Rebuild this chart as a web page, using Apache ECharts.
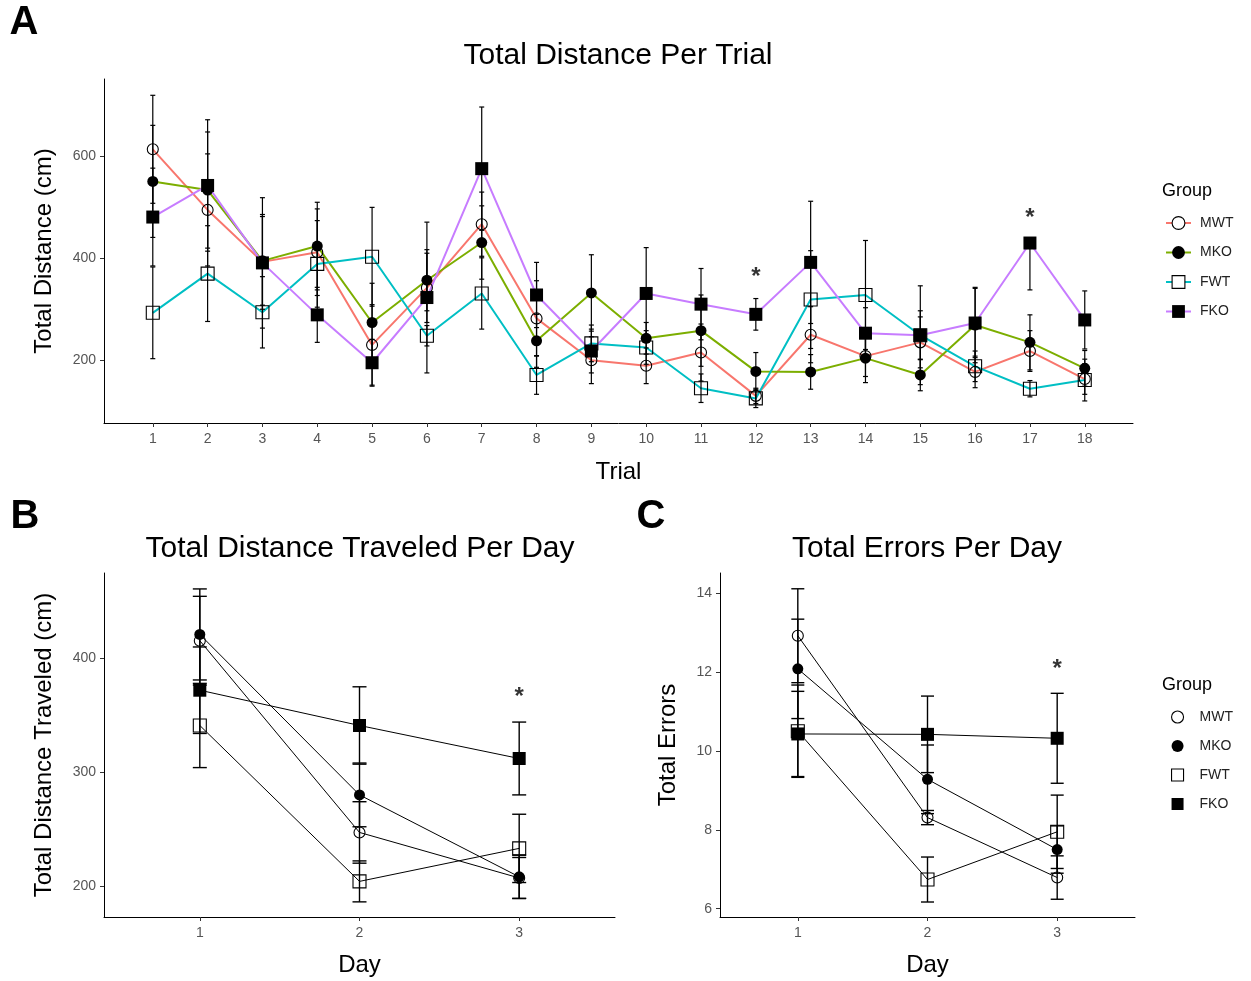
<!DOCTYPE html>
<html>
<head>
<meta charset="utf-8">
<script src="https://cdn.jsdelivr.net/npm/echarts@6/dist/echarts.min.js"></script>
<style>
  html, body { margin: 0; padding: 0; background: #fff; }
  #chart { width: 1251px; height: 981px; }
</style>
</head>
<body>
<div id="chart"></div>
<script>
// panel A - total distance per trial
const trials = [1, 2, 3, 4, 5, 6, 7, 8, 9, 10, 11, 12, 13, 14, 15, 16, 17, 18]
const trialTicks = [1, 2, 3, 4, 5, 6, 7, 8, 9, 10, 11, 12, 13, 14, 15, 16, 17, 18]
const distTicks = [200, 400, 600]

const mwtTrial = [614, 495, 393, 412, 230, 342, 467, 282, 200, 189, 215, 130, 250, 208, 235, 177, 218, 163]
const mkoTrial = [551, 534, 395, 424, 274, 357, 431, 238, 332, 243, 258, 178, 177, 204, 171, 269, 235, 184]
const fwtTrial = [293, 370, 294, 389, 403, 248, 331, 171, 233, 225, 145, 125, 319, 328, 249, 188, 144, 161]
const fkoTrial = [481, 543, 391, 289, 195, 323, 576, 328, 218, 331, 310, 290, 392, 253, 249, 273, 430, 279]

const mwtTrialSe = [106, 110, 93, 85, 79, 68, 63, 74, 46, 35, 56, 15, 55, 40, 50, 31, 40, 30]
const mkoTrialSe = [110, 114, 87, 86, 77, 60, 72, 52, 75, 31, 70, 37, 34, 48, 31, 74, 54, 35]
const fwtTrialSe = [90, 94, 70, 85, 97, 20, 70, 38, 36, 33, 28, 18, 96, 107, 48, 30, 16, 41]
const fkoTrialSe = [96, 129, 128, 54, 46, 148, 121, 64, 43, 90, 70, 31, 120, 50, 97, 68, 92, 57]
// upper whisker of FKO is not drawn at trial 17
const fkoTrialSeUp = [96, 129, 128, 54, 46, 148, 121, 64, 43, 90, 70, 31, 120, 50, 97, 68, 0, 57]

// panel B - distance per day
const days = [1, 2, 3]
const dayTicks = [1, 2, 3]
const dayDistTicks = [200, 300, 400]

const mwtDay = [415.5, 247, 207]
const mkoDay = [421, 280, 208]
const fwtDay = [341, 204, 233]
const fkoDay = [372, 341, 312]

const mwtDaySe = [39, 27, 18]
const mkoDaySe = [40, 28, 19]
const fwtDaySe = [37, 18, 30]
const fkoDaySe = [38, 34, 32]

// panel C - errors per day
const errTicks = [6, 8, 10, 12, 14]

const mwtErr = [12.92, 8.31, 6.79]
const mkoErr = [12.08, 9.28, 7.5]
const fwtErr = [10.5, 6.74, 7.95]
const fkoErr = [10.43, 10.42, 10.32]

const mwtErrSe = [1.19, 0.18, 0.55]
const mkoErrSe = [1.26, 0.87, 0.6]
const fwtErrSe = [1.17, 0.57, 0.93]
const fkoErrSe = [1.08, 0.97, 1.14]

// significance marks
const starsA = [[12, 362], [17, 478]]
const starsB = [[3, 366]]
const starsC = [[3, 12.07]]

const FONT = '"Liberation Sans", Arial, sans-serif'
const groupColors = { MWT: '#F8766D', MKO: '#7CAE00', FWT: '#00BFC4', FKO: '#C77CFF' }
const groupSymbols = {
  MWT: { symbol: 'circle', fill: 'rgba(0,0,0,0)', border: 1.1 },
  MKO: { symbol: 'circle', fill: '#000', border: 0 },
  FWT: { symbol: 'rect', fill: 'rgba(0,0,0,0)', border: 1.1 },
  FKO: { symbol: 'rect', fill: '#000', border: 0 }
}

function pairs(xs, ys) {
  return xs.map((x, i) => [x, ys[i]])
}

function lineSeries(name, xs, ys, idx, color, width, sizes) {
  const s = groupSymbols[name]
  return {
    type: 'line',
    name: name,
    xAxisIndex: idx,
    yAxisIndex: idx,
    data: pairs(xs, ys),
    symbol: s.symbol,
    symbolSize: s.symbol === 'rect' ? sizes[1] : sizes[0],
    showAllSymbol: true,
    lineStyle: { color: color, width: width },
    itemStyle: { color: s.fill, borderColor: '#000', borderWidth: s.border },
    emphasis: { disabled: true },
    z: 2
  }
}

function errorSeries(xs, means, seLo, seHi, idx, halfCap, width) {
  return {
    type: 'custom',
    xAxisIndex: idx,
    yAxisIndex: idx,
    data: xs.map((x, i) => [x, means[i] + seHi[i], means[i] - seLo[i]]),
    encode: { x: 0, y: [1, 2] },
    renderItem: function (params, api) {
      const x = api.value(0)
      const top = api.coord([x, api.value(1)])
      const bot = api.coord([x, api.value(2)])
      const st = { stroke: '#000', lineWidth: width }
      return {
        type: 'group',
        children: [
          { type: 'line', shape: { x1: top[0], y1: top[1], x2: bot[0], y2: bot[1] }, style: st },
          { type: 'line', shape: { x1: top[0] - halfCap, y1: top[1], x2: top[0] + halfCap, y2: top[1] }, style: st },
          { type: 'line', shape: { x1: bot[0] - halfCap, y1: bot[1], x2: bot[0] + halfCap, y2: bot[1] }, style: st }
        ]
      }
    },
    silent: true,
    z: 3
  }
}

function starSeries(pts, idx) {
  return {
    type: 'scatter',
    xAxisIndex: idx,
    yAxisIndex: idx,
    data: pts,
    symbolSize: 1,
    itemStyle: { color: 'rgba(0,0,0,0)' },
    label: {
      show: true,
      position: 'inside',
      formatter: '*',
      fontFamily: FONT,
      fontWeight: 'bold',
      fontSize: 24,
      color: '#000'
    },
    silent: true,
    z: 4
  }
}

function xAxis(idx, min, max, ticks, name, gap) {
  return {
    type: 'value',
    gridIndex: idx,
    min: min,
    max: max,
    name: name,
    nameLocation: 'middle',
    nameGap: gap,
    nameTextStyle: { fontFamily: FONT, fontSize: 24, color: '#000' },
    axisLine: { lineStyle: { color: '#000', width: 1 } },
    axisTick: { show: true, length: 4, customValues: ticks, lineStyle: { color: '#333' } },
    axisLabel: { customValues: ticks, margin: 9, fontFamily: FONT, fontSize: 14, color: '#555' },
    splitLine: { show: false }
  }
}

function yAxis(idx, min, max, ticks, name, gap) {
  return {
    type: 'value',
    gridIndex: idx,
    min: min,
    max: max,
    name: name,
    nameLocation: 'middle',
    nameGap: gap,
    nameTextStyle: { fontFamily: FONT, fontSize: 24, color: '#000' },
    axisLine: { show: true, lineStyle: { color: '#000', width: 1 } },
    axisTick: { show: true, length: 4, customValues: ticks, lineStyle: { color: '#333' } },
    axisLabel: { customValues: ticks, margin: 8, fontFamily: FONT, fontSize: 14, color: '#555' },
    splitLine: { show: false }
  }
}

function text(str, x, y, font, align) {
  return {
    type: 'text',
    x: x,
    y: y,
    style: {
      text: str,
      font: font,
      fill: '#000',
      textAlign: align || 'center',
      textVerticalAlign: 'middle'
    }
  }
}

const names = ['MWT', 'MKO', 'FWT', 'FKO']
const trialMeans = [mwtTrial, mkoTrial, fwtTrial, fkoTrial]
const trialSes = [mwtTrialSe, mkoTrialSe, fwtTrialSe, fkoTrialSe]
const trialSesUp = [mwtTrialSe, mkoTrialSe, fwtTrialSe, fkoTrialSeUp]
const dayMeans = [mwtDay, mkoDay, fwtDay, fkoDay]
const daySes = [mwtDaySe, mkoDaySe, fwtDaySe, fkoDaySe]
const errMeans = [mwtErr, mkoErr, fwtErr, fkoErr]
const errSes = [mwtErrSe, mkoErrSe, fwtErrSe, fkoErrSe]

const series = []
names.forEach((n, i) => {
  series.push(lineSeries(n, trials, trialMeans[i], 0, groupColors[n], 2, [11, 13]))
  series.push(errorSeries(trials, trialMeans[i], trialSes[i], trialSesUp[i], 0, 2.5, 1.2))
})
names.forEach((n, i) => {
  series.push(lineSeries(n, days, dayMeans[i], 1, '#000', 1, [11, 13]))
  series.push(errorSeries(days, dayMeans[i], daySes[i], daySes[i], 1, 7, 1.4))
})
names.forEach((n, i) => {
  series.push(lineSeries(n, days, errMeans[i], 2, '#000', 1, [11, 13]))
  series.push(errorSeries(days, errMeans[i], errSes[i], errSes[i], 2, 6.5, 1.4))
})
series.push(starSeries(starsA, 0))
series.push(starSeries(starsB, 1))
series.push(starSeries(starsC, 2))

const legendA = names.map(n => {
  const s = groupSymbols[n]
  return {
    name: n,
    itemStyle: {
      color: s.border ? '#fff' : '#000',
      borderColor: '#000',
      borderWidth: s.border ? 1.1 : 0
    }
  }
})

const legendC = names.map(n => {
  const s = groupSymbols[n]
  return {
    name: n,
    icon: s.symbol,
    itemStyle: {
      color: s.border ? '#fff' : '#000',
      borderColor: '#000',
      borderWidth: s.border ? 1.1 : 0
    }
  }
})

const chart = echarts.init(document.getElementById('chart'), null, { renderer: 'canvas' })
chart.setOption({
  animation: false,
  backgroundColor: '#fff',
  textStyle: { fontFamily: FONT },
  grid: [
    { left: 104, top: 79, width: 1029, height: 344 },
    { left: 104, top: 573, width: 511, height: 344 },
    { left: 720, top: 573, width: 415, height: 344 }
  ],
  xAxis: [
    xAxis(0, 0.11, 18.88, trialTicks, 'Trial', 37),
    xAxis(1, 0.4, 3.6, dayTicks, 'Day', 36),
    xAxis(2, 0.4, 3.6, dayTicks, 'Day', 36)
  ],
  yAxis: [
    yAxis(0, 76.7, 752, distTicks, 'Total Distance (cm)', 48),
    yAxis(1, 172.7, 475, dayDistTicks, 'Total Distance Traveled (cm)', 48),
    yAxis(2, 5.79, 14.51, errTicks, 'Total Errors', 40)
  ],
  legend: [
    {
      left: 1165,
      top: 216,
      padding: 0,
      orient: 'vertical',
      data: legendA,
      itemWidth: 25,
      itemHeight: 16,
      itemGap: 15.5,
      selectedMode: false,
      textStyle: { fontFamily: FONT, fontSize: 14, color: '#222', padding: [0, 0, 0, 4] }
    },
    {
      left: 1171,
      top: 710,
      padding: 0,
      orient: 'vertical',
      data: legendC,
      itemWidth: 12,
      itemHeight: 12,
      itemGap: 15,
      selectedMode: false,
      textStyle: { fontFamily: FONT, fontSize: 14, color: '#222', padding: [0, 0, 0, 11] }
    }
  ],
  graphic: [
    text('A', 24, 23, 'bold 40px ' + FONT),
    text('B', 25, 517, 'bold 40px ' + FONT),
    text('C', 651, 517, 'bold 40px ' + FONT),
    text('Total Distance Per Trial', 618, 56, '30px ' + FONT),
    text('Total Distance Traveled Per Day', 360, 549, '30px ' + FONT),
    text('Total Errors Per Day', 927, 549, '30px ' + FONT),
    text('Group', 1162, 191, '18px ' + FONT, 'left'),
    text('Group', 1162, 685, '18px ' + FONT, 'left')
  ],
  series: series
})
</script>
</body>
</html>
